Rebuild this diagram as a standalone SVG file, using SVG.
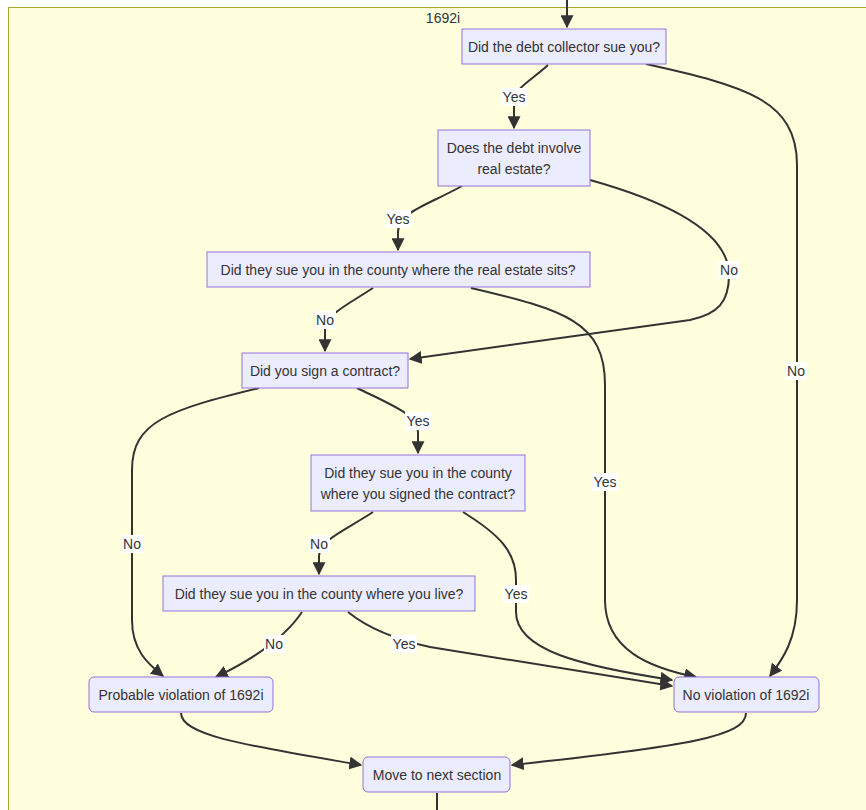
<svg xmlns="http://www.w3.org/2000/svg" width="866" height="810" viewBox="0 0 866 810">
<defs>
<style>
.bg{fill:#ffffff}
.cluster{fill:#ffffde;stroke:#aaaa33;stroke-width:1}
.node rect{fill:#ececff;stroke:#9370db;stroke-width:1}
.node text,.title{font-family:"Liberation Sans",Arial,sans-serif;font-size:14px;fill:#333;text-anchor:middle;dominant-baseline:central}
.edge{fill:none;stroke:#333;stroke-width:2}
.lbl rect{fill:#ffffff}
.lbl text{font-family:"Liberation Sans",Arial,sans-serif;font-size:14px;fill:#333;text-anchor:middle;dominant-baseline:central}
</style>
<marker id="arrow" viewBox="0 0 10 10" refX="9" refY="5" markerWidth="6.5" markerHeight="6.5" markerUnits="strokeWidth" orient="auto">
<path d="M0,0 L10,5 L0,10 z" fill="#333"/>
</marker>
</defs>
<rect class="bg" x="0" y="0" width="866" height="810"/>
<rect class="cluster" x="8.5" y="7.5" width="870" height="820"/>
<text class="title" x="443" y="18">1692i</text>

<g id="connectors">
<path class="edge" d="M567,0 L567,27" marker-end="url(#arrow)"/>
<path class="edge" d="M548,65 C532,80 514,88 514,102 L514,128" marker-end="url(#arrow)"/>
<path class="edge" d="M646,64 C745,86 797,100 797,165 L797,600 C797,640 782,660 770,676" marker-end="url(#arrow)"/>
<path class="edge" d="M462,186 C428,205 398,212 398,232 L398,250" marker-end="url(#arrow)"/>
<path class="edge" d="M590,180 C690,208 729,240 729,275 C729,302 718,314 690,320 L410,359" marker-end="url(#arrow)"/>
<path class="edge" d="M373,288 C347,305 325,315 325,330 L325,351" marker-end="url(#arrow)"/>
<path class="edge" d="M471,288 C565,310 605,322 605,385 L605,600 C605,650 650,668 696,677" marker-end="url(#arrow)"/>
<path class="edge" d="M357,388 C392,405 418,415 418,432 L418,453" marker-end="url(#arrow)"/>
<path class="edge" d="M259,388 C168,410 132,422 132,470 L132,620 C132,650 148,664 163,676" marker-end="url(#arrow)"/>
<path class="edge" d="M373,512 C346,530 319,540 319,556 L319,574" marker-end="url(#arrow)"/>
<path class="edge" d="M463,512 C500,535 516,552 516,580 L516,612 C516,650 580,666 672,680" marker-end="url(#arrow)"/>
<path class="edge" d="M302,612 C290,630 268,652 216,677" marker-end="url(#arrow)"/>
<path class="edge" d="M348,612 C370,630 398,640 430,647 L672,686" marker-end="url(#arrow)"/>
<path class="edge" d="M181,713 C181,736 250,746 361,765" marker-end="url(#arrow)"/>
<path class="edge" d="M746,713 C746,736 690,746 512,765" marker-end="url(#arrow)"/>
<path class="edge" d="M437,793 L437,810"/>
</g>

<g id="edge-labels">
<g class="lbl"><rect x="501" y="88" width="26" height="18"/><text x="514" y="97">Yes</text></g>
<g class="lbl"><rect x="786" y="362" width="21" height="18"/><text x="796" y="371">No</text></g>
<g class="lbl"><rect x="385" y="210" width="26" height="18"/><text x="398" y="219">Yes</text></g>
<g class="lbl"><rect x="718" y="261" width="21" height="18"/><text x="729" y="270">No</text></g>
<g class="lbl"><rect x="315" y="311" width="21" height="18"/><text x="325" y="320">No</text></g>
<g class="lbl"><rect x="592" y="473" width="26" height="18"/><text x="605" y="482">Yes</text></g>
<g class="lbl"><rect x="405" y="412" width="26" height="18"/><text x="418" y="421">Yes</text></g>
<g class="lbl"><rect x="122" y="535" width="21" height="18"/><text x="132" y="544">No</text></g>
<g class="lbl"><rect x="309" y="535" width="21" height="18"/><text x="319" y="544">No</text></g>
<g class="lbl"><rect x="503" y="585" width="26" height="18"/><text x="516" y="594">Yes</text></g>
<g class="lbl"><rect x="264" y="635" width="21" height="18"/><text x="274" y="644">No</text></g>
<g class="lbl"><rect x="391" y="635" width="26" height="18"/><text x="404" y="644">Yes</text></g>
</g>

<g id="n1" class="node"><rect x="462" y="29" width="204" height="35"/><text x="564" y="47">Did the debt collector sue you?</text></g>
<g id="n2" class="node"><rect x="438" y="130" width="152" height="56"/><text x="514" y="148">Does the debt involve</text><text x="514" y="169">real estate?</text></g>
<g id="n3" class="node"><rect x="207" y="252" width="383" height="35"/><text x="398" y="270">Did they sue you in the county where the real estate sits?</text></g>
<g id="n4" class="node"><rect x="242" y="353" width="166" height="35"/><text x="325" y="371">Did you sign a contract?</text></g>
<g id="n5" class="node"><rect x="311" y="455" width="214" height="56"/><text x="418" y="473">Did they sue you in the county</text><text x="418" y="494">where you signed the contract?</text></g>
<g id="n6" class="node"><rect x="163" y="576" width="312" height="35"/><text x="319" y="594">Did they sue you in the county where you live?</text></g>
<g id="n7" class="node"><rect x="89" y="677" width="184" height="35" rx="5"/><text x="181" y="695">Probable violation of 1692i</text></g>
<g id="n8" class="node"><rect x="674" y="677" width="145" height="35" rx="5"/><text x="746" y="695">No violation of 1692i</text></g>
<g id="n9" class="node"><rect x="363" y="757" width="147" height="35" rx="5"/><text x="437" y="775">Move to next section</text></g>
</svg>
